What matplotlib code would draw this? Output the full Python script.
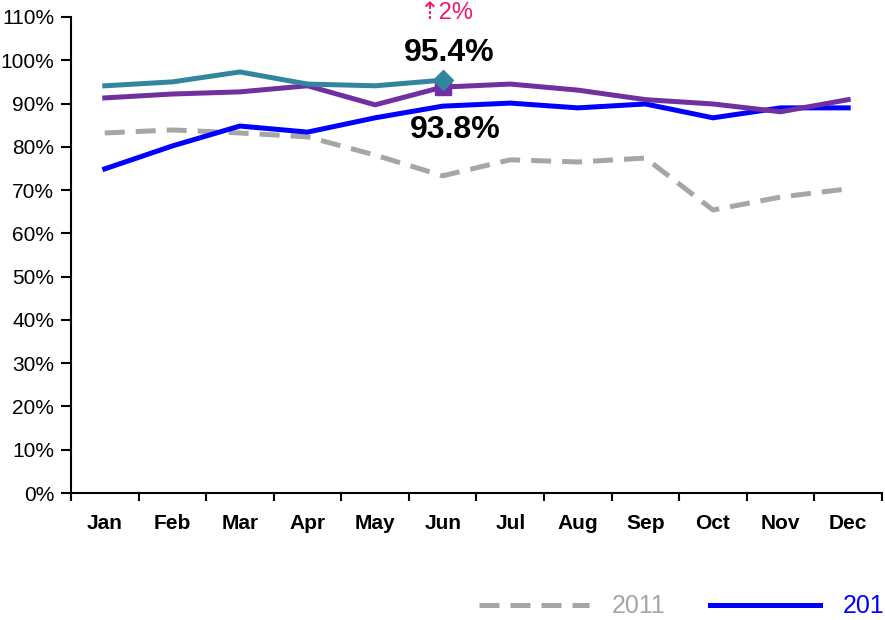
import matplotlib
matplotlib.use("Agg")
import matplotlib.pyplot as plt
from matplotlib.ticker import FixedLocator, PercentFormatter

plt.rcParams['font.family'] = ['Liberation Sans', 'DejaVu Sans']

months = ["Jan", "Feb", "Mar", "Apr", "May", "Jun", "Jul", "Aug", "Sep", "Oct", "Nov", "Dec"]
series_names = ["2011", "2012", "2013", "2014"]
v2011 = [83.2, 83.9, 83.2, 82.3, 78.1, 73.3, 77.0, 76.5, 77.4, 65.4, 68.4, 70.3]
v2012 = [74.9, 80.2, 84.8, 83.4, 86.7, 89.4, 90.1, 89.0, 89.9, 86.7, 89.0, 89.0]
v2013 = [91.3, 92.2, 92.7, 94.1, 89.7, 93.8, 94.5, 93.1, 90.9, 89.9, 88.1, 90.9]
v2014 = [94.1, 95.0, 97.3, 94.5, 94.1, 95.4]
label_2014 = "95.4%"
label_2013 = "93.8%"
change_label = "\u21e12%"

fig = plt.figure(figsize=(8.85, 6.2), dpi=100)
ax = fig.add_axes([0.0802, 0.2048, 0.9164, 0.7678])

x = list(range(len(months)))
lw = 3.6
ax.plot(x, v2011, color="#A6A6A6", lw=lw, ls=(0, (4.0, 2.2)), label=series_names[0])
ax.plot(x, v2012, color="#0000FF", lw=lw, label=series_names[1])
ax.plot(x, v2013, color="#7030A0", lw=lw, label=series_names[2])
ax.plot(x[:len(v2014)], v2014, color="#31859C", lw=lw, label=series_names[3])
ax.plot([5], [v2013[5]], marker="s", ms=11, color="#7030A0", ls="none")
ax.plot([5], [v2014[5]], marker="D", ms=10, color="#31859C", ls="none")

ax.text(5.1, 101.7, label_2014, ha="center", va="center", fontsize=23, fontweight="bold")
ax.text(5.18, 83.9, label_2013, ha="center", va="center", fontsize=23, fontweight="bold")
ax.text(5.05, 110.9, change_label, ha="center", va="center", fontsize=17, color="#F0186E",
        clip_on=False)

ax.set_xlim(-0.5, 11.5)
ax.set_ylim(0, 110)
ax.yaxis.set_major_locator(FixedLocator(range(0, 111, 10)))
ax.yaxis.set_major_formatter(PercentFormatter(decimals=0))
ax.set_xticks(x)
ax.set_xticklabels(months, fontweight="bold", fontsize=15)
ax.set_xticks([i - 0.5 for i in range(13)], minor=True)
ax.tick_params(axis="x", which="major", length=0, pad=15)
ax.tick_params(axis="x", which="minor", length=6, width=1.5, direction="out")
ax.tick_params(axis="y", length=7, width=1.5, direction="out", labelsize=15, pad=5)
for s in ["top", "right"]:
    ax.spines[s].set_visible(False)
for s in ["left", "bottom"]:
    ax.spines[s].set_linewidth(1.5)

leg = fig.legend(loc="center left", bbox_to_anchor=(0.516, 0.022), ncol=4, frameon=False,
                 fontsize=18, handlelength=4.4, columnspacing=1.8, handletextpad=0.9)
for t, c in zip(leg.get_texts(), ["#A6A6A6", "#0000FF", "#7030A0", "#31859C"]):
    t.set_color(c)

fig.savefig("out.png", dpi=100)
